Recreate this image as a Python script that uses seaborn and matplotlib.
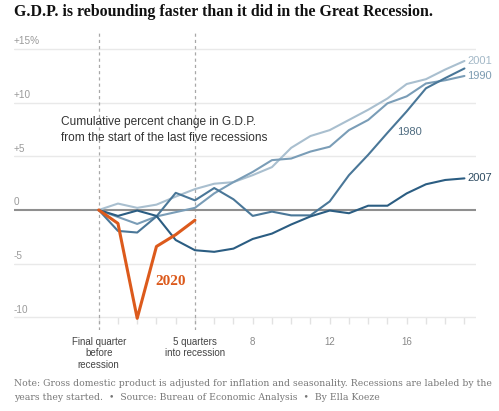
import numpy as np
import pandas as pd
import matplotlib
matplotlib.use("Agg")
import matplotlib.pyplot as plt
import matplotlib.transforms as mtrans
import seaborn as sns

# ---- data (cumulative % change in GDP, by quarter since start of recession)
r1980 = [0, -1.95, -2.1, -0.6, 1.6, 0.9, 2.05, 1.0, -0.55, -0.15, -0.5, -0.5,
         0.8, 3.25, 5.15, 7.2, 9.2, 11.35, 12.3, 13.2]
r1990 = [0, -0.65, -1.3, -0.6, -0.2, 0.2, 1.55, 2.6, 3.55, 4.65, 4.8, 5.45,
         5.9, 7.45, 8.4, 9.95, 10.6, 11.8, 12.1, 12.5]
r2001 = [0, 0.6, 0.2, 0.5, 1.25, 1.95, 2.45, 2.6, 3.25, 4.0, 5.8, 6.9,
         7.45, 8.4, 9.35, 10.4, 11.75, 12.2, 13.1, 13.9]
r2007 = [0, -0.55, -0.05, -0.55, -2.8, -3.75, -3.9, -3.6, -2.7, -2.2, -1.35, -0.6,
         -0.05, -0.3, 0.4, 0.4, 1.55, 2.4, 2.8, 2.95]
r2020 = [0, -1.25, -10.1, -3.4, -2.3, -0.95]

series = {"2001": r2001, "1990": r1990, "1980": r1980, "2007": r2007, "2020": r2020}
palette = {"2001": "#a9bfcf", "1990": "#7a9db7", "1980": "#4a7798", "2007": "#2b5d82",
           "2020": "#dc5a1c"}
label_colors = {"2001": "#a3b8c7", "1990": "#7d9cb2", "1980": "#4f6c80", "2007": "#2e4c62"}

yticks = [15, 10, 5, 0, -5, -10]
yticklabels = ["+15%", "+10", "+5", "0", "-5", "-10"]
xticks = list(range(20))
xlabel_map = {0: "Final quarter\nbefore\nrecession", 5: "5 quarters\ninto recession",
              8: "8", 12: "12", 16: "16"}

df = pd.concat([pd.DataFrame({"quarter": np.arange(len(v)), "change": v, "recession": k})
                for k, v in series.items()], ignore_index=True)

sns.set_style("white")
plt.rcParams['font.family'] = ['Liberation Sans', 'DejaVu Sans']

fig = plt.figure(figsize=(4.99, 4.11), dpi=100)
ax = fig.add_axes([14/499, 81/411, 462/499, 298/411])

old = df[df.recession != "2020"]
sns.lineplot(data=old, x="quarter", y="change", hue="recession",
             hue_order=["2001", "1990", "1980", "2007"], palette=palette,
             estimator=None, sort=False, legend=False, linewidth=1.5, ax=ax, zorder=3)
sns.lineplot(data=df[df.recession == "2020"], x="quarter", y="change", color=palette["2020"],
             estimator=None, sort=False, legend=False, linewidth=2.2, ax=ax, zorder=4)

ax.set_xlim(-4.4, 19.6)
ax.set_ylim(-11.19, 16.6)

blend = mtrans.blended_transform_factory(ax.transAxes, ax.transData)
for t, lab in zip(yticks, yticklabels):
    if t == 0:
        ax.axhline(t, color="#8f8f8f", lw=1.5, zorder=2)
    else:
        ax.axhline(t, color="#e9e9e9", lw=1.0, zorder=1)
    ax.text(0, t + 0.25, lab, transform=blend, ha="left", va="bottom",
            fontsize=7.2, color="#9a9a9a")

for q in (0, 5):
    ax.axvline(q, color="#a8a8a8", lw=0.9, ls=(0, (2.5, 2.5)), zorder=1.5)

ax.set_yticks([])
ax.set_xticks(xticks)
ax.set_xticklabels([xlabel_map.get(q, "") for q in xticks])
for s in ax.spines.values():
    s.set_visible(False)
ax.spines["bottom"].set_position(("data", -10))
ax.tick_params(axis="x", length=5, width=1, color="#e2e2e2", pad=9,
               labelsize=7, labelcolor="#444444", bottom=True)
for q, tl in zip(xticks, ax.get_xticklabels()):
    if q in (8, 12, 16):
        tl.set_color("#8a8a8a")
ax.set_xlabel("")
ax.set_ylabel("")

# line labels
for k in ("2001", "1990", "2007"):
    v = series[k]
    ax.text(len(v) - 1 + 0.15, v[-1], k, ha="left", va="center", fontsize=8,
            color=label_colors[k])
ax.text(15.5, 7.3, "1980", ha="left", va="center", fontsize=8, color=label_colors["1980"])
ax.text(2.92, -6.7, "2020", ha="left", va="center", fontsize=11, fontweight="bold",
        color=palette["2020"], family=["Liberation Serif", "DejaVu Serif"])

fig.text(61/499, 1 - 130/411, "Cumulative percent change in G.D.P.\nfrom the start of the last five recessions",
         ha="left", va="center", fontsize=8.6, color="#333333", linespacing=1.35)

fig.text(14/499, 1 - 12/411, "G.D.P. is rebounding faster than it did in the Great Recession.",
         ha="left", va="center", fontsize=11.4, fontweight="bold", color="#111111",
         family=["Liberation Serif", "DejaVu Serif"])

fig.text(14/499, 1 - 383/411,
         "Note: Gross domestic product is adjusted for inflation and seasonality. Recessions are labeled by the",
         ha="left", va="center", fontsize=6.7, color="#777777", family=["DejaVu Serif"])
fig.text(14/499, 1 - 397/411,
         "years they started.  \u2022  Source: Bureau of Economic Analysis  \u2022  By Ella Koeze",
         ha="left", va="center", fontsize=6.7, color="#777777", family=["DejaVu Serif"])

fig.savefig("out.png", dpi=100)
